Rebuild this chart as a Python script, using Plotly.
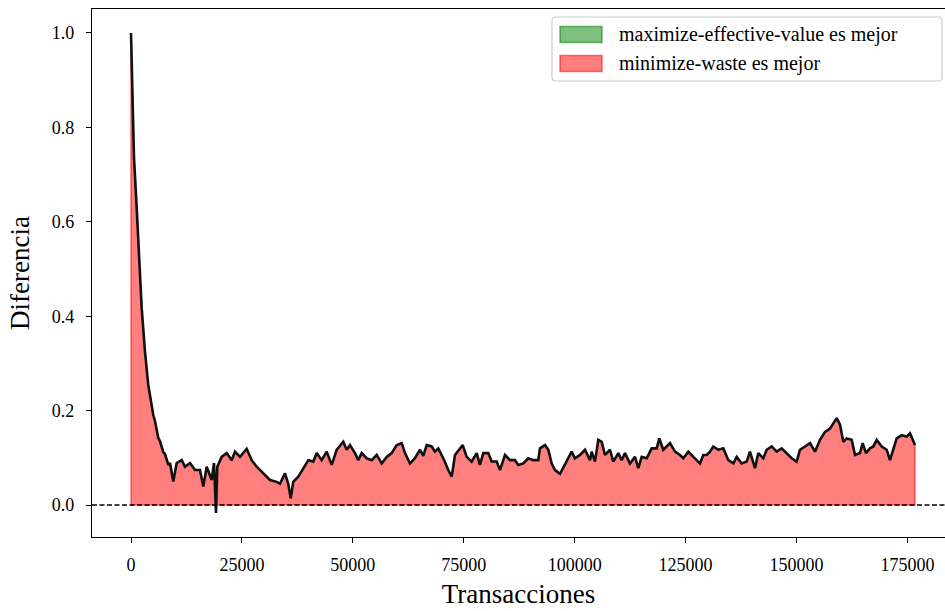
import numpy as np
import plotly.graph_objects as go

# Transacciones (x) and Diferencia (y)
transacciones = [
    0, 290, 680, 1280, 1800, 2410, 3160, 3900, 5030, 5410, 6150, 6540, 7280, 7660,
    8410, 8790, 9530, 10300, 11430, 12170, 13300, 14430, 15550, 16300, 17060, 18190,
    18710, 19160, 19450, 20440, 21570, 22700, 23440, 24570, 26080, 27210, 28330,
    29820, 31330, 32840, 33580, 34710, 35450, 36000, 36580, 37710, 38840, 39960,
    41090, 41860, 42980, 44110, 45240, 46360, 47850, 48620, 49360, 50490, 51230,
    52000, 53130, 54250, 55380, 56510, 57630, 58760, 59890, 61020, 61760, 62890,
    64010, 65140, 65880, 66650, 67780, 68520, 69260, 70390, 71520, 72290, 73030,
    74160, 74770, 75670, 76790, 77920, 78660, 79410, 80540, 81300, 82430, 83170,
    84300, 85430, 86550, 87300, 88420, 89550, 90680, 91800, 92190, 93320, 94060,
    94830, 95570, 96700, 97820, 99330, 100070, 101200, 102330, 103460, 103840,
    104590, 105330, 106100, 106840, 107970, 108710, 109840, 110600, 111350, 112470,
    113600, 114350, 115110, 116240, 117370, 118490, 119080, 119980, 121490, 122620,
    123750, 124490, 125620, 126750, 128260, 129000, 129760, 130510, 131250, 132380,
    133510, 134640, 135770, 136530, 137650, 138780, 139520, 140650, 141390, 142520,
    143290, 144410, 145540, 146670, 147800, 148920, 150050, 150790, 151920, 153050,
    154180, 155300, 156430, 157560, 159070, 159810, 160560, 161330, 162450, 163200,
    164320, 164920, 165670, 166570, 167320, 168090, 169220, 170340, 171080, 171830,
    172590, 173720, 174840, 175590, 176200, 176710,
]
diferencia = [
    1.0, 0.876, 0.735, 0.63, 0.536, 0.417, 0.324, 0.254, 0.19, 0.178, 0.142, 0.135,
    0.112, 0.108, 0.085, 0.089, 0.05, 0.089, 0.095, 0.081, 0.089, 0.074, 0.074,
    0.039, 0.081, 0.053, 0.089, -0.017, 0.081, 0.102, 0.11, 0.095, 0.113, 0.102,
    0.119, 0.095, 0.081, 0.067, 0.053, 0.049, 0.045, 0.067, 0.045, 0.014, 0.049,
    0.06, 0.078, 0.095, 0.092, 0.11, 0.095, 0.113, 0.085, 0.117, 0.134, 0.117,
    0.127, 0.11, 0.095, 0.11, 0.099, 0.095, 0.106, 0.088, 0.102, 0.11, 0.127,
    0.131, 0.11, 0.088, 0.099, 0.117, 0.104, 0.127, 0.124, 0.113, 0.12, 0.099,
    0.074, 0.06, 0.106, 0.12, 0.127, 0.102, 0.092, 0.11, 0.085, 0.11, 0.11, 0.092,
    0.092, 0.074, 0.106, 0.095, 0.095, 0.085, 0.088, 0.099, 0.095, 0.095, 0.12,
    0.127, 0.117, 0.088, 0.074, 0.066, 0.087, 0.113, 0.099, 0.106, 0.117, 0.095,
    0.113, 0.092, 0.138, 0.134, 0.106, 0.117, 0.092, 0.11, 0.095, 0.11, 0.088,
    0.102, 0.078, 0.102, 0.099, 0.12, 0.12, 0.141, 0.117, 0.131, 0.113, 0.106,
    0.099, 0.113, 0.102, 0.088, 0.106, 0.106, 0.113, 0.124, 0.117, 0.12, 0.095,
    0.088, 0.102, 0.088, 0.092, 0.113, 0.078, 0.11, 0.099, 0.117, 0.124, 0.113,
    0.12, 0.11, 0.099, 0.092, 0.117, 0.124, 0.131, 0.113, 0.138, 0.155, 0.162,
    0.184, 0.17, 0.134, 0.141, 0.138, 0.106, 0.11, 0.131, 0.11, 0.12, 0.124, 0.138,
    0.124, 0.117, 0.095, 0.117, 0.141, 0.148, 0.145, 0.152, 0.138, 0.127,
]

x_ticks = [0, 25000, 50000, 75000, 100000, 125000, 150000, 175000]
y_ticks = [0.0, 0.2, 0.4, 0.6, 0.8, 1.0]
legend_labels = ["maximize-effective-value es mejor", "minimize-waste es mejor"]

GREEN_FILL, GREEN_EDGE = "rgba(0,128,0,0.5)", "rgba(0,128,0,0.55)"
RED_FILL, RED_EDGE = "rgba(255,0,0,0.5)", "rgba(255,0,0,0.55)"

x = np.array(transacciones, dtype=float)
y = np.array(diferencia, dtype=float)

# insert zero crossings so the positive/negative fills meet exactly at 0
xs, ys = [x[0]], [y[0]]
for i in range(1, len(x)):
    if (y[i - 1] > 0 > y[i]) or (y[i - 1] < 0 < y[i]):
        t = y[i - 1] / (y[i - 1] - y[i])
        xs.append(x[i - 1] + t * (x[i] - x[i - 1]))
        ys.append(0.0)
    xs.append(x[i])
    ys.append(y[i])
xs = np.array(xs)
ys = np.array(ys)

pos = np.maximum(ys, 0)
red_x = np.concatenate([[xs[0]], xs, [xs[-1], xs[0]]])
red_y = np.concatenate([[0], pos, [0, 0]])

neg_x, neg_y = [], []
i, n = 0, len(ys)
while i < n:
    if ys[i] < 0:
        s, e = i - 1, i
        while e < n and ys[e] < 0:
            e += 1
        seg_x = list(xs[s:e + 1])
        seg_y = list(ys[s:e + 1])
        neg_x += seg_x + [seg_x[0], None]
        neg_y += seg_y + [seg_y[0], None]
        i = e
    else:
        i += 1

FONT = "Liberation Serif"

fig = go.Figure()
fig.add_trace(go.Scatter(
    x=neg_x, y=neg_y, fill="toself", mode="lines",
    fillcolor=GREEN_FILL, line=dict(color=GREEN_EDGE, width=1.5),
    name=legend_labels[0], showlegend=False, hoverinfo="skip",
))
fig.add_trace(go.Scatter(
    x=red_x, y=red_y, fill="toself", mode="lines",
    fillcolor=RED_FILL, line=dict(color=RED_EDGE, width=1.5),
    name=legend_labels[1], showlegend=False, hoverinfo="skip",
))
fig.add_trace(go.Scatter(
    x=x, y=y, mode="lines", line=dict(color="#111111", width=2.6),
    showlegend=False,
))

fig.add_shape(type="line", xref="paper", x0=0, x1=1, yref="y", y0=0, y1=0,
              line=dict(color="black", width=1.5, dash="5px,2.5px"), layer="above")

# ---- legend drawn in paper space (matplotlib style) ----
L, T, PW, PH = 92, 9, 853, 528
def px(v):
    return (v - L) / PW
def py(v):
    return (T + PH - v) / PH

bx0, bx1, by0, by1, r = 552, 942, 17, 81, 4
path = (f"M {px(bx0 + r)},{py(by0)} L {px(bx1 - r)},{py(by0)} "
        f"Q {px(bx1)},{py(by0)} {px(bx1)},{py(by0 + r)} "
        f"L {px(bx1)},{py(by1 - r)} Q {px(bx1)},{py(by1)} {px(bx1 - r)},{py(by1)} "
        f"L {px(bx0 + r)},{py(by1)} Q {px(bx0)},{py(by1)} {px(bx0)},{py(by1 - r)} "
        f"L {px(bx0)},{py(by0 + r)} Q {px(bx0)},{py(by0)} {px(bx0 + r)},{py(by0)} Z")
fig.add_shape(type="path", path=path, xref="paper", yref="paper",
              fillcolor="rgba(255,255,255,0.8)", line=dict(color="#cccccc", width=1.2),
              layer="above")
for k, (lab, fc, ec) in enumerate(zip(legend_labels, [GREEN_FILL, RED_FILL],
                                      [GREEN_EDGE, RED_EDGE])):
    cy = 34.5 + 29 * k
    fig.add_shape(type="rect", xref="paper", yref="paper",
                  x0=px(560), x1=px(602), y0=py(cy - 8), y1=py(cy + 8),
                  fillcolor=fc, line=dict(color=ec, width=1.5), layer="above")
    fig.add_annotation(xref="paper", yref="paper", x=px(617), y=py(cy),
                       xanchor="left", yanchor="middle", text=lab, showarrow=False,
                       font=dict(family=FONT, size=20, color="black"))

fig.update_layout(
    width=945, height=611,
    margin=dict(l=92, r=0, t=9, b=74),
    paper_bgcolor="white", plot_bgcolor="white",
    font=dict(family=FONT, size=18, color="black"),
    showlegend=False,
    xaxis=dict(
        range=[-8790, 183480], tickvals=x_ticks, tickformat="d",
        showgrid=False, zeroline=False, showline=True, linecolor="black",
        linewidth=1.3, mirror=True, ticks="outside", ticklen=5, tickwidth=1.2,
        tickcolor="black", tickfont=dict(size=18), ticklabelstandoff=6,
        title=dict(text="Transacciones", font=dict(size=27), standoff=10),
    ),
    yaxis=dict(
        range=[-0.0678, 1.0508], tickvals=y_ticks, tickformat=".1f",
        showgrid=False, zeroline=False, showline=True, linecolor="black",
        linewidth=1.3, ticks="outside", ticklen=5, tickwidth=1.2,
        tickcolor="black", tickfont=dict(size=18), ticklabelstandoff=8,
        title=dict(text="Diferencia", font=dict(size=27), standoff=14),
    ),
)

fig.write_html("out.html")
